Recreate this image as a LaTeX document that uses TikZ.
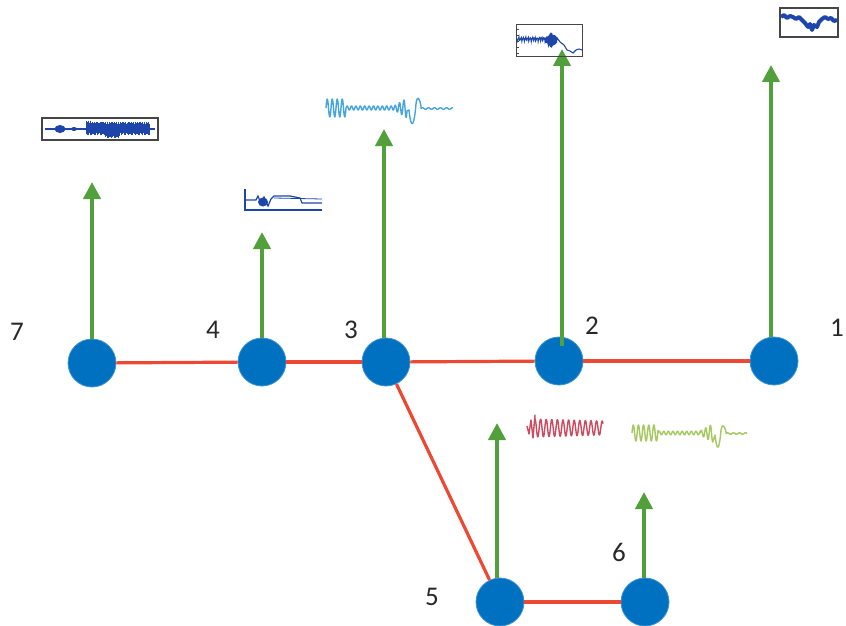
\documentclass[tikz,border=0pt]{standalone}
\usepackage{fontspec}
\setmainfont{Carlito}
\usetikzlibrary{arrows.meta}
\definecolor{nodeblue}{RGB}{0,112,192}
\definecolor{edgered}{RGB}{236,72,52}
\definecolor{arrgreen}{RGB}{82,160,60}
\definecolor{sigdark}{RGB}{30,70,170}
\definecolor{sigsky}{RGB}{70,165,222}
\definecolor{sigred}{RGB}{205,75,95}
\definecolor{siglime}{RGB}{165,200,95}
\definecolor{framegray}{RGB}{70,70,70}
\definecolor{labelgray}{RGB}{40,40,40}
\begin{document}
\begin{tikzpicture}[x=1pt,y=-1pt,
  vtx/.style={circle,fill=nodeblue,draw=nodeblue!75!white,line width=0.8pt,minimum size=48pt,inner sep=0pt},
  edge/.style={draw=edgered,line width=3.2pt},
  garrow/.style={draw=arrgreen,line width=4pt,-{Triangle[width=17pt,length=17pt]}},
  lbl/.style={text=labelgray,font=\fontsize{27}{30}\selectfont,inner sep=0pt},
  sigframe/.style={draw=framegray,line width=1.3pt},
  sig/.style={line width=1.4pt,line join=round}]
\useasboundingbox (0,0) rectangle (846,626);

% nodes
\node[vtx] (n7) at (92,363) {};
\node[vtx] (n4) at (262,362) {};
\node[vtx] (n3) at (386,362) {};
\node[vtx] (n2) at (559,361) {};
\node[vtx] (n1) at (774,361) {};
\node[vtx] (n5) at (500,602) {};
\node[vtx] (n6) at (645,602) {};

% edges
\draw[edge] (n7) -- (n4);
\draw[edge] (n4) -- (n3);
\draw[edge] (n3) -- (n2);
\draw[edge] (n2) -- (n1);
\draw[edge] (n3) -- (n5);
\draw[edge] (n5) -- (n6);

% labels
\node[lbl] (l7) at (17,332) {7};
\node[lbl] (l4) at (213,330) {4};
\node[lbl] (l3) at (351,330) {3};
\node[lbl] (l2) at (592,326) {2};
\node[lbl] (l1) at (837,328) {1};
\node[lbl] (l5) at (432,597) {5};
\node[lbl] (l6) at (619,552) {6};

% arrows
\coordinate (a7) at (92,182);
\coordinate (a4) at (262,232);
\coordinate (a3) at (384,129);
\coordinate (a2) at (562,49);
\coordinate (a1) at (771,65);
\coordinate (a5) at (497,423);
\coordinate (a6) at (644,492);
\coordinate (s2) at (562,346);
\draw[garrow] (a7 |- n7.north) -- (a7);
\draw[garrow] (a4 |- n4.north) -- (a4);
\draw[garrow] (a3 |- n3.north) -- (a3);
\draw[garrow] (s2) -- (a2);
\draw[garrow] (a1 |- n1.north) -- (a1);
\draw[garrow] (a5 |- n5.north) -- (a5);
\draw[garrow] (a6 |- n6.north) -- (a6);

% signal near 7
\draw[sigframe] (42,118) rectangle (158,140);
\draw[sigdark,line width=1.2pt] (45,129) -- (155,129);
\fill[sigdark] (60,129) ellipse (5.5 and 4);
\fill[sigdark] (74,129) ellipse (3 and 2);
\foreach \x in {86,86.7,...,149} {
  \pgfmathsetmacro\ta{129-(4.5+2.5*abs(sin((\x-86)*97)))-(\x<92?1:0)}
  \pgfmathsetmacro\tb{129+(3.5+2.5*abs(sin((\x-86)*53)))+((\x>105)&&(\x<120)?3:0)}
  \draw[sigdark,line width=0.9pt] (\x,\ta) -- (\x,\tb);
}

% signal near 4
\draw[sigdark,line width=1.3pt] (245,189) -- (245,211);
\draw[sigdark,line width=1.3pt] (245,210) -- (322,210);
\draw[sigdark,line width=1.2pt] (246,200) -- (256,200) -- (258,196) -- (261,204) -- (264,197) -- (268,206) -- (271,199) -- (274,196) -- (290,196) -- (300,198) -- (302,203) -- (322,203);
\fill[sigdark] (263,202) ellipse (5 and 4.5);
\draw[sigdark,line width=0.8pt] (274,198) -- (322,199);

% signal near 3 (sky blue)
\draw[sigsky,sig] plot[domain=326:346,samples=120] (\x,{108-9*sin((\x-326)*72)})
  -- plot[domain=346:394,samples=200] (\x,{108-2*sin((\x-346)*81.82)})
  -- plot[domain=394:407,samples=80] (\x,{108-(2+(\x-394)*0.6)*sin((\x-394)*81.82)})
  -- (409,110) .. controls (411,130) and (414,128) .. (416,104)
  .. controls (417,96) and (419,96) .. (421,106)
  -- plot[domain=421:453,samples=80] (\x,{108.5-0.8*sin((\x-421)*60)});

% signal near 2
\draw[framegray,line width=1pt] (516,25) rectangle (582,57);
\foreach \yy in {29,35,41,47,53} { \draw[framegray,line width=0.6pt] (516,\yy) -- (519,\yy); }
\draw[sigdark,line width=1.1pt] plot[domain=517:546,samples=60] (\x,{39+1.5*sin((\x-517)*157)+1*sin((\x-517)*311)})
  -- plot[domain=546:557,samples=50] (\x,{40+(8-abs(\x-551.5))*sin((\x-546)*420)})
  -- (560,42) -- (564,45) -- (567,50) -- (570,51) -- (573,53) -- (576,50) -- (579,49) -- (582,50);
\fill[sigdark] (552,41) ellipse (4 and 5);

% signal near 1
\draw[framegray,line width=1.3pt] (780,8) rectangle (838,37);
\draw[sigdark,line width=4pt,line join=round] (781,17) -- (784,15) -- (787,18) -- (790,16) -- (793,17) -- (796,19) -- (799,17) -- (802,20) -- (805,23) -- (808,27) -- (810,24) -- (812,30) -- (814,25) -- (817,27) -- (819,22) -- (822,19) -- (825,17) -- (828,19) -- (831,18) -- (834,21) -- (837,20);

% red signal near 5
\draw[sigred,sig] (527,426) -- (529,434) -- (531,420) -- (533,438) -- (535,415)
  -- plot[domain=535:603,samples=260] (\x,{428-(9-(\x-535)*0.03)*sin((\x-535)*64.29+90)});

% green signal near 6
\draw[siglime,sig] plot[domain=632:658,samples=140] (\x,{433-8*sin((\x-632)*70)})
  -- plot[domain=658:700,samples=160] (\x,{433-1.8*sin((\x-658)*78.26)})
  -- plot[domain=700:713,samples=80] (\x,{433-(2+(\x-700)*0.55)*sin((\x-700)*78.26)})
  -- (715,435) .. controls (717,452) and (719,452) .. (721,430)
  .. controls (722,424) and (724,424) .. (726,432)
  -- plot[domain=726:747,samples=60] (\x,{433.5-0.7*sin((\x-726)*60)});
\end{tikzpicture}
\end{document}
